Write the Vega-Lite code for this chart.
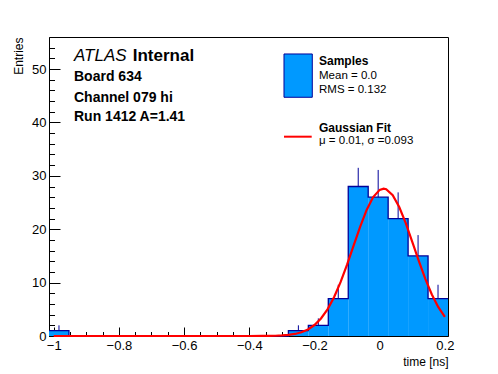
{
  "$schema": "https://vega.github.io/schema/vega-lite/v6.json",
  "width": 399,
  "height": 299,
  "autosize": {"type": "none"},
  "padding": {"left": 49, "top": 37, "right": 50, "bottom": 38},
  "background": "white",
  "datasets": {
    "bins": [
      {"lo": -1.0144, "hi": -0.9532, "mid": -0.9838, "n": 1, "up": 2.0},
      {"lo": -0.9532, "hi": -0.8920, "mid": -0.9226, "n": 0, "up": 0},
      {"lo": -0.8920, "hi": -0.8308, "mid": -0.8614, "n": 0, "up": 0},
      {"lo": -0.8308, "hi": -0.7696, "mid": -0.8002, "n": 0, "up": 0},
      {"lo": -0.7696, "hi": -0.7084, "mid": -0.7390, "n": 0, "up": 0},
      {"lo": -0.7084, "hi": -0.6472, "mid": -0.6778, "n": 0, "up": 0},
      {"lo": -0.6472, "hi": -0.5860, "mid": -0.6166, "n": 0, "up": 0},
      {"lo": -0.5860, "hi": -0.5248, "mid": -0.5554, "n": 0, "up": 0},
      {"lo": -0.5248, "hi": -0.4636, "mid": -0.4942, "n": 0, "up": 0},
      {"lo": -0.4636, "hi": -0.4024, "mid": -0.4330, "n": 0, "up": 0},
      {"lo": -0.4024, "hi": -0.3412, "mid": -0.3718, "n": 0, "up": 0},
      {"lo": -0.3412, "hi": -0.2800, "mid": -0.3106, "n": 0, "up": 0},
      {"lo": -0.2800, "hi": -0.2188, "mid": -0.2494, "n": 1, "up": 2.0},
      {"lo": -0.2188, "hi": -0.1576, "mid": -0.1882, "n": 2, "up": 3.3},
      {"lo": -0.1576, "hi": -0.0964, "mid": -0.1270, "n": 7, "up": 9.6},
      {"lo": -0.0964, "hi": -0.0352, "mid": -0.0658, "n": 28, "up": 31.5},
      {"lo": -0.0352, "hi": 0.0260, "mid": -0.0046, "n": 26, "up": 31.1},
      {"lo": 0.0260, "hi": 0.0872, "mid": 0.0566, "n": 22, "up": 26.9},
      {"lo": 0.0872, "hi": 0.1484, "mid": 0.1178, "n": 15, "up": 18.9},
      {"lo": 0.1484, "hi": 0.2096, "mid": 0.1790, "n": 7, "up": 9.6}
    ],
    "edges": [
      {"x": -1.0144, "n": 1}, {"x": -0.9532, "n": 0}, {"x": -0.8920, "n": 0}, {"x": -0.8308, "n": 0},
      {"x": -0.7696, "n": 0}, {"x": -0.7084, "n": 0}, {"x": -0.6472, "n": 0}, {"x": -0.5860, "n": 0},
      {"x": -0.5248, "n": 0}, {"x": -0.4636, "n": 0}, {"x": -0.4024, "n": 0}, {"x": -0.3412, "n": 0},
      {"x": -0.2800, "n": 1}, {"x": -0.2188, "n": 2}, {"x": -0.1576, "n": 7}, {"x": -0.0964, "n": 28},
      {"x": -0.0352, "n": 26}, {"x": 0.0260, "n": 22}, {"x": 0.0872, "n": 15}, {"x": 0.1484, "n": 7},
      {"x": 0.2096, "n": 7}
    ],
    "fit": [
      {"x": -1.0, "y": 0}, {"x": -0.6, "y": 0}, {"x": -0.4, "y": 0.002}, {"x": -0.36, "y": 0.01},
      {"x": -0.34, "y": 0.021}, {"x": -0.32, "y": 0.047}, {"x": -0.30, "y": 0.099}, {"x": -0.28, "y": 0.20},
      {"x": -0.26, "y": 0.383}, {"x": -0.24, "y": 0.702}, {"x": -0.22, "y": 1.229}, {"x": -0.20, "y": 2.054},
      {"x": -0.18, "y": 3.277}, {"x": -0.16, "y": 4.99}, {"x": -0.14, "y": 7.26}, {"x": -0.12, "y": 10.08},
      {"x": -0.10, "y": 13.36}, {"x": -0.08, "y": 16.92}, {"x": -0.06, "y": 20.45}, {"x": -0.04, "y": 23.61},
      {"x": -0.02, "y": 26.01}, {"x": 0.00, "y": 27.37}, {"x": 0.012, "y": 27.6}, {"x": 0.02, "y": 27.50},
      {"x": 0.04, "y": 26.38}, {"x": 0.06, "y": 24.16}, {"x": 0.08, "y": 21.13}, {"x": 0.10, "y": 17.64},
      {"x": 0.12, "y": 14.06}, {"x": 0.14, "y": 10.70}, {"x": 0.16, "y": 7.78}, {"x": 0.18, "y": 5.40},
      {"x": 0.20, "y": 3.58}
    ]
  },
  "resolve": {"axis": {"x": "independent", "y": "independent"}},
  "layer": [
    {
      "data": {"name": "bins"},
      "mark": {"type": "rect", "fill": "#0099ff", "strokeWidth": 0},
      "encoding": {
        "x": {"field": "lo", "type": "quantitative",
          "scale": {"domain": [-1.0144, 0.2096], "nice": false, "zero": false},
          "axis": {"orient": "bottom", "values": [-1, -0.8, -0.6, -0.4, -0.2, 0, 0.2], "format": "~g",
            "tickSize": -9, "labelPadding": 12, "labelFontSize": 13, "labelFlush": false, "labelOverlap": false,
            "title": "time [ns]", "titleAnchor": "end", "titleFontWeight": "normal", "titleFontSize": 12, "titlePadding": 4}},
        "x2": {"field": "hi"},
        "y": {"field": "n", "type": "quantitative",
          "scale": {"domain": [0, 56], "nice": false},
          "axis": {"orient": "left", "values": [0, 10, 20, 30, 40, 50], "tickSize": -11, "labelPadding": 14,
            "labelFontSize": 13, "labelOverlap": false,
            "title": "Entries", "titleAnchor": "end", "titleFontWeight": "normal", "titleFontSize": 12, "titlePadding": 6}},
        "y2": {"datum": 0}
      }
    },
    {
      "data": {"name": "bins"},
      "transform": [{"filter": "datum.n > 0"}],
      "mark": {"type": "rule", "stroke": "#000099", "strokeWidth": 1},
      "encoding": {
        "x": {"field": "mid", "type": "quantitative",
          "axis": {"orient": "bottom", "values": [-0.95, -0.9, -0.85, -0.75, -0.7, -0.65, -0.55, -0.5, -0.45, -0.35, -0.3, -0.25, -0.15, -0.1, -0.05, 0.05, 0.1, 0.15],
            "labels": false, "domain": false, "title": null, "tickSize": -4.5}},
        "y": {"field": "n", "type": "quantitative",
          "axis": {"orient": "left", "values": [2, 4, 6, 8, 12, 14, 16, 18, 22, 24, 26, 28, 32, 34, 36, 38, 42, 44, 46, 48, 52, 54],
            "labels": false, "domain": false, "title": null, "tickSize": -5.5}},
        "y2": {"field": "up"}
      }
    },
    {
      "data": {"name": "edges"},
      "mark": {"type": "line", "interpolate": "step-after", "stroke": "#000099", "strokeWidth": 1.3},
      "encoding": {
        "x": {"field": "x", "type": "quantitative", "axis": null},
        "y": {"field": "n", "type": "quantitative", "axis": null}
      }
    },
    {
      "data": {"name": "fit"},
      "mark": {"type": "line", "stroke": "#ff0000", "strokeWidth": 2.2},
      "encoding": {
        "x": {"field": "x", "type": "quantitative", "axis": null},
        "y": {"field": "y", "type": "quantitative", "axis": null}
      }
    },
    {
      "data": {"values": [{"t": "ATLAS"}]},
      "mark": {"type": "text", "align": "left", "baseline": "alphabetic", "fontSize": 17, "fontStyle": "italic", "font": "Liberation Sans", "color": "black"},
      "encoding": {"x": {"datum": -0.9377, "type": "quantitative", "axis": null}, "y": {"datum": 51.5, "type": "quantitative", "axis": null}, "text": {"field": "t"}}
    },
    {
      "data": {"values": [{"t": "Internal"}]},
      "mark": {"type": "text", "align": "left", "baseline": "alphabetic", "fontSize": 17, "fontWeight": "bold", "font": "Liberation Sans", "color": "black"},
      "encoding": {"x": {"datum": -0.7576, "type": "quantitative", "axis": null}, "y": {"datum": 51.5, "type": "quantitative", "axis": null}, "text": {"field": "t"}}
    },
    {
      "data": {"values": [{"t": "Board 634"}]},
      "mark": {"type": "text", "align": "left", "baseline": "alphabetic", "fontSize": 14, "fontWeight": "bold", "font": "Liberation Sans", "color": "black"},
      "encoding": {"x": {"datum": -0.9377, "type": "quantitative", "axis": null}, "y": {"datum": 47.76, "type": "quantitative", "axis": null}, "text": {"field": "t"}}
    },
    {
      "data": {"values": [{"t": "Channel 079 hi"}]},
      "mark": {"type": "text", "align": "left", "baseline": "alphabetic", "fontSize": 14, "fontWeight": "bold", "font": "Liberation Sans", "color": "black"},
      "encoding": {"x": {"datum": -0.9377, "type": "quantitative", "axis": null}, "y": {"datum": 43.8, "type": "quantitative", "axis": null}, "text": {"field": "t"}}
    },
    {
      "data": {"values": [{"t": "Run 1412 A=1.41"}]},
      "mark": {"type": "text", "align": "left", "baseline": "alphabetic", "fontSize": 14, "fontWeight": "bold", "font": "Liberation Sans", "color": "black"},
      "encoding": {"x": {"datum": -0.9377, "type": "quantitative", "axis": null}, "y": {"datum": 40.2, "type": "quantitative", "axis": null}, "text": {"field": "t"}}
    },
    {
      "data": {"values": [{"t": "Samples"}]},
      "mark": {"type": "rect", "fill": "#0099ff", "stroke": "#000099", "strokeWidth": 1},
      "encoding": {"x": {"datum": -0.2935, "type": "quantitative", "axis": null}, "x2": {"datum": -0.2067},
        "y": {"datum": 52.82, "type": "quantitative", "axis": null}, "y2": {"datum": 44.71}}
    },
    {
      "data": {"values": [{"t": "Samples"}]},
      "mark": {"type": "text", "align": "left", "baseline": "alphabetic", "fontSize": 12, "fontWeight": "bold", "font": "Liberation Sans", "color": "black"},
      "encoding": {"x": {"datum": -0.1861, "type": "quantitative", "axis": null}, "y": {"datum": 50.76, "type": "quantitative", "axis": null}, "text": {"field": "t"}}
    },
    {
      "data": {"values": [{"t": "Mean = 0.0"}]},
      "mark": {"type": "text", "align": "left", "baseline": "alphabetic", "fontSize": 11.5, "font": "Liberation Sans", "color": "black"},
      "encoding": {"x": {"datum": -0.1861, "type": "quantitative", "axis": null}, "y": {"datum": 48.08, "type": "quantitative", "axis": null}, "text": {"field": "t"}}
    },
    {
      "data": {"values": [{"t": "RMS = 0.132"}]},
      "mark": {"type": "text", "align": "left", "baseline": "alphabetic", "fontSize": 11.5, "font": "Liberation Sans", "color": "black"},
      "encoding": {"x": {"datum": -0.1861, "type": "quantitative", "axis": null}, "y": {"datum": 45.45, "type": "quantitative", "axis": null}, "text": {"field": "t"}}
    },
    {
      "data": {"values": [{"t": "Gaussian Fit"}]},
      "mark": {"type": "rule", "stroke": "#ff0000", "strokeWidth": 2},
      "encoding": {"x": {"datum": -0.2935, "type": "quantitative", "axis": null}, "x2": {"datum": -0.2085},
        "y": {"datum": 37.33, "type": "quantitative", "axis": null}}
    },
    {
      "data": {"values": [{"t": "Gaussian Fit"}]},
      "mark": {"type": "text", "align": "left", "baseline": "alphabetic", "fontSize": 12, "fontWeight": "bold", "font": "Liberation Sans", "color": "black"},
      "encoding": {"x": {"datum": -0.1861, "type": "quantitative", "axis": null}, "y": {"datum": 38.15, "type": "quantitative", "axis": null}, "text": {"field": "t"}}
    },
    {
      "data": {"values": [{"t": "μ = 0.01, σ =0.093"}]},
      "mark": {"type": "text", "align": "left", "baseline": "alphabetic", "fontSize": 11.5, "font": "Liberation Sans", "color": "black"},
      "encoding": {"x": {"datum": -0.1861, "type": "quantitative", "axis": null}, "y": {"datum": 35.9, "type": "quantitative", "axis": null}, "text": {"field": "t"}}
    }
  ],
  "config": {
    "font": "Liberation Sans",
    "view": {"stroke": "black", "strokeWidth": 1},
    "axis": {"grid": false, "domainColor": "black", "tickColor": "black", "labelColor": "black", "titleColor": "black",
      "labelFont": "Liberation Sans", "titleFont": "Liberation Sans", "domainWidth": 1, "tickWidth": 1}
  }
}
